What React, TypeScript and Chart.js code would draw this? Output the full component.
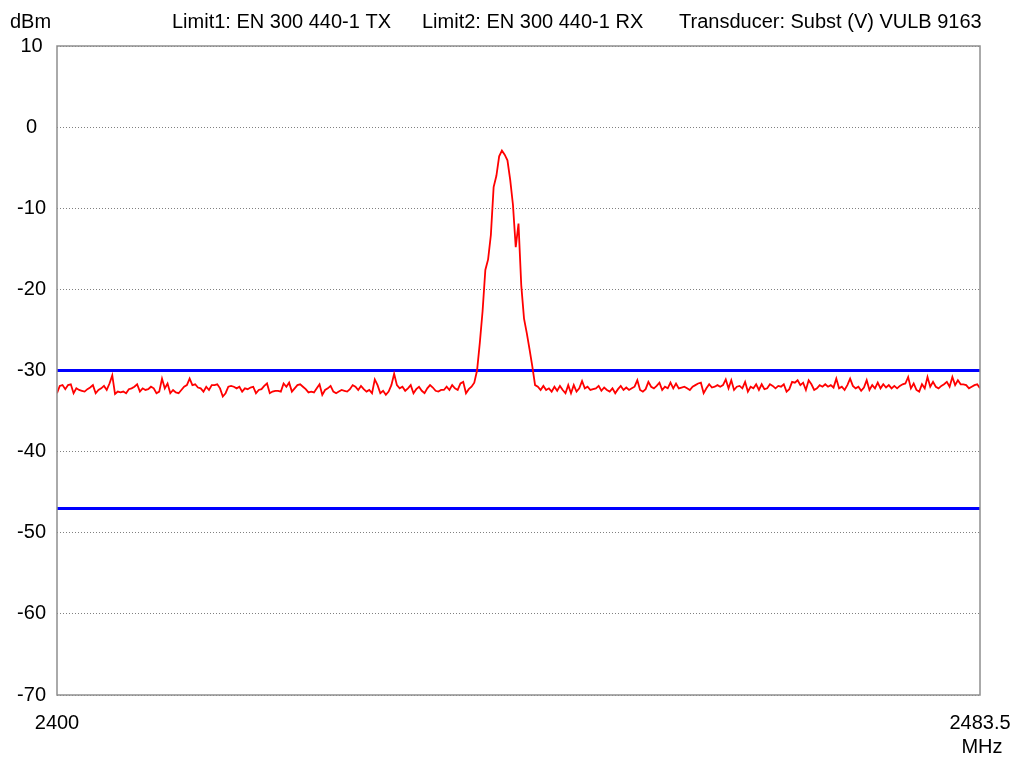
import React, { useEffect, useRef } from "react";
import { Chart, registerables } from "chart.js";

Chart.register(...registerables);

// Sweep definition
const startMHz = 2400;
const stepMHz = 0.25;
const stopMHz = 2483.5;

// Measured level (dBm) per sweep point, 2400 ... 2483.5 MHz in 0.25 MHz steps
const levelDbm = [
  -32.8, -31.9, -31.8, -32.3, -31.8, -31.7, -32.8, -32.2, -32.4, -32.5,
  -32.6, -32.3, -32.1, -31.8, -32.8, -32.4, -32.2, -31.9, -32.4, -31.6,
  -30.6, -32.9, -32.6, -32.7, -32.6, -32.8, -32.3, -32.2, -32.0, -31.7,
  -32.6, -32.2, -32.4, -32.3, -32.0, -32.2, -32.8, -32.6, -31.0, -32.2,
  -31.6, -32.8, -32.4, -32.7, -32.8, -32.4, -32.0, -31.8, -31.0, -31.8,
  -31.7, -32.1, -32.2, -32.6, -32.0, -32.4, -31.8, -31.8, -31.7, -32.2,
  -33.2, -32.8, -32.0, -31.9, -32.0, -32.2, -32.0, -32.6, -32.2, -32.3,
  -32.1, -32.0, -32.8, -32.4, -32.3, -31.9, -31.6, -32.8, -32.6, -32.5,
  -32.5, -32.6, -31.6, -32.0, -31.5, -32.6, -32.2, -31.8, -31.7, -32.0,
  -32.3, -32.7, -32.6, -32.7, -32.2, -31.7, -33.0, -32.4, -32.2, -31.9,
  -32.6, -32.8, -32.6, -32.4, -32.5, -32.6, -32.3, -31.8, -32.0, -32.4,
  -31.9, -32.3, -32.6, -32.4, -32.8, -31.1, -31.8, -32.8, -32.5, -33.0,
  -32.6, -31.8, -30.4, -31.8, -32.2, -32.0, -32.5, -32.2, -31.8, -32.8,
  -32.3, -32.0, -32.5, -32.8, -32.2, -31.8, -32.1, -32.5, -32.6, -32.4,
  -32.4, -32.0, -32.4, -31.8, -32.2, -32.4, -31.6, -31.4, -32.8, -32.3,
  -32.0, -31.5, -30.0, -26.6, -22.7, -17.6, -16.3, -13.3, -7.4, -6.0,
  -3.6, -2.9, -3.4, -4.1, -6.5, -9.6, -14.8, -11.9, -19.5, -23.6,
  -25.4, -27.4, -29.5, -31.8, -32.0, -32.4, -31.9, -32.4, -32.2, -32.6,
  -32.0, -32.5, -31.9, -32.4, -32.8, -31.8, -32.8, -31.8, -32.6, -32.2,
  -31.3, -32.2, -32.0, -32.4, -32.3, -32.2, -31.9, -32.5, -32.1, -32.4,
  -32.6, -32.2, -32.8, -32.3, -31.9, -32.4, -32.1, -32.4, -32.2, -32.0,
  -31.2, -32.4, -32.6, -32.3, -31.4, -32.0, -32.2, -31.9, -31.5, -32.4,
  -32.0, -32.2, -31.5, -32.2, -31.6, -32.2, -32.1, -32.0, -32.2, -32.4,
  -32.0, -31.8, -31.6, -31.5, -32.8, -32.2, -31.7, -32.1, -32.0, -31.8,
  -32.0, -31.8, -31.1, -32.2, -31.2, -32.4, -32.0, -31.9, -32.2, -31.4,
  -32.6, -32.0, -32.2, -31.7, -32.4, -31.7, -32.3, -32.2, -31.7, -31.9,
  -32.2, -31.9, -32.0, -31.7, -32.6, -32.3, -31.4, -31.5, -31.2, -31.8,
  -31.5, -32.4, -31.2, -31.7, -32.4, -32.2, -31.8, -32.0, -31.7, -32.0,
  -31.8, -32.1, -31.0, -32.2, -32.0, -32.4, -31.8, -31.0, -31.9, -32.2,
  -32.0, -32.5, -32.1, -31.2, -32.4, -31.8, -32.2, -31.5, -32.2, -31.7,
  -32.1, -31.8, -32.2, -31.9, -32.2, -31.9, -31.7, -31.6, -30.8, -32.2,
  -31.6, -32.4, -32.6, -31.7, -32.2, -30.8, -32.0, -31.4, -32.0, -32.2,
  -31.9, -31.7, -31.4, -32.0, -30.8, -31.8, -31.2, -31.7, -31.7, -31.8,
  -32.2, -32.0, -31.8, -31.7, -32.2,
];

// Limit lines (dBm)
const limit1Dbm = -30;
const limit2Dbm = -47;

// Axes
const xTickValues = [2400, 2483.5];
const yMin = -70;
const yMax = 10;
const yStep = 10;

// Texts
const yUnit = "dBm";
const xUnit = "MHz";
const headerTexts = [
  "Limit1: EN 300 440-1 TX",
  "Limit2: EN 300 440-1 RX",
  "Transducer: Subst (V) VULB 9163",
];

const FONT_FAMILY = '"Liberation Sans", Arial, Helvetica, sans-serif';

export default function App() {
  const canvasRef = useRef<HTMLCanvasElement>(null);

  useEffect(() => {
    const canvas = canvasRef.current;
    if (!canvas) return;

    const trace = levelDbm.map((y, i) => ({ x: startMHz + i * stepMHz, y }));
    const lim1 = [
      { x: startMHz, y: limit1Dbm },
      { x: stopMHz, y: limit1Dbm },
    ];
    const lim2 = [
      { x: startMHz, y: limit2Dbm },
      { x: stopMHz, y: limit2Dbm },
    ];

    const overlay = {
      id: "overlay",
      afterDraw(chart: any) {
        const { ctx, chartArea: a } = chart;
        ctx.save();
        ctx.strokeStyle = "#8f8f8f";
        ctx.lineWidth = 1.5;
        ctx.strokeRect(a.left, a.top, a.right - a.left, a.bottom - a.top);
        ctx.fillStyle = "#000";
        ctx.font = `20px ${FONT_FAMILY}`;
        ctx.textBaseline = "alphabetic";
        ctx.textAlign = "left";
        ctx.fillText(yUnit, 10, 28);
        const hx = [172, 422, 679];
        headerTexts.forEach((t, i) => ctx.fillText(t, hx[i], 28));
        ctx.textAlign = "center";
        ctx.fillText(xUnit, a.right + 2, 753);
        ctx.restore();
      },
    };

    const chart = new Chart(canvas, {
      type: "line",
      data: {
        datasets: [
          {
            label: "Trace",
            data: trace,
            borderColor: "#ff0000",
            borderWidth: 1.8,
            pointRadius: 0,
            tension: 0,
            fill: false,
          },
          {
            label: "Limit1",
            data: lim1,
            borderColor: "#0000ff",
            borderWidth: 3,
            pointRadius: 0,
            fill: false,
          },
          {
            label: "Limit2",
            data: lim2,
            borderColor: "#0000ff",
            borderWidth: 3,
            pointRadius: 0,
            fill: false,
          },
        ],
      },
      options: {
        animation: false,
        responsive: false,
        maintainAspectRatio: false,
        devicePixelRatio: 1,
        layout: { padding: { top: 46, right: 41, bottom: 0, left: 0 } },
        plugins: {
          legend: { display: false },
          tooltip: { enabled: false },
          title: { display: false },
        },
        scales: {
          x: {
            type: "linear",
            min: startMHz,
            max: stopMHz,
            afterBuildTicks: (scale: any) => {
              scale.ticks = xTickValues.map((v) => ({ value: v }));
            },
            afterFit: (scale: any) => {
              scale.height = 63;
              scale.paddingLeft = 0;
              scale.paddingRight = 0;
            },
            grid: { display: false, drawTicks: false },
            border: { display: false },
            ticks: {
              autoSkip: false,
              maxRotation: 0,
              padding: 16,
              color: "#000",
              font: { family: FONT_FAMILY, size: 20 },
              callback: (v: any) => String(v),
            },
          },
          y: {
            type: "linear",
            min: yMin,
            max: yMax,
            afterFit: (scale: any) => {
              scale.width = 57;
            },
            grid: {
              color: "#808080",
              lineWidth: 1,
              drawTicks: false,
            },
            border: { display: false, dash: [1, 2] },
            ticks: {
              stepSize: yStep,
              crossAlign: "center",
              padding: 11,
              color: "#000",
              font: { family: FONT_FAMILY, size: 20 },
              callback: (v: any) => String(v),
            },
          },
        },
      },
      plugins: [overlay],
    });

    return () => chart.destroy();
  }, []);

  return (
    <div style={{ position: "fixed", left: 0, top: 0, width: 1021, height: 758, background: "#fff" }}>
      <canvas ref={canvasRef} width={1021} height={758} style={{ display: "block" }} />
    </div>
  );
}
